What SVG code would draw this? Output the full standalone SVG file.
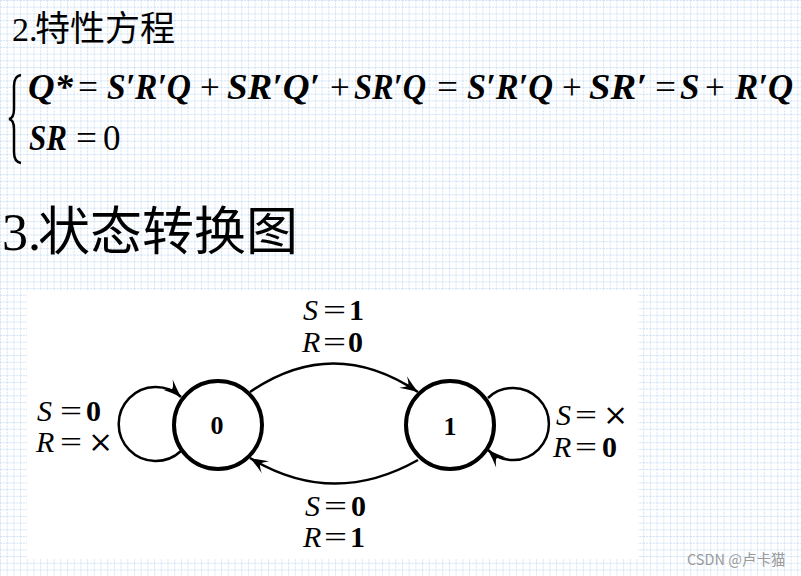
<svg xmlns="http://www.w3.org/2000/svg" width="801" height="576" viewBox="0 0 801 576">
<defs>
<pattern id="grid" width="6.7" height="6.7" patternUnits="userSpaceOnUse">
<path d="M0 0.5 H6.7 M0.5 0 V6.7" stroke="#cfe2f6" stroke-width="1" stroke-dasharray="2 1" fill="none"/>
</pattern>
<marker id="arr" markerUnits="userSpaceOnUse" viewBox="-20 -10 24 20" markerWidth="24" markerHeight="20" refX="0" refY="0" orient="auto" overflow="visible">
<path d="M0,0 Q-9,-3 -18,-7 Q-12,-2 -12,0 Q-12,2 -18,7 Q-9,3 0,0 Z" fill="#000"/>
</marker>
<style>
.node { fill:#fff; stroke:#000; stroke-width:4 }
.edge { fill:none; stroke:#000; stroke-width:2.5; marker-end:url(#arr) }
.lbl { font-family:"Liberation Serif", serif; font-size:30px; fill:#000 }
.x { font-family:"DejaVu Serif", serif; font-size:30px; fill:#000 }
.nl { font-family:"Liberation Serif", serif; font-size:26px; font-weight:bold; fill:#000; text-anchor:middle }
.eq { font-family:"Liberation Serif", serif; font-size:35px; fill:#000 }
.bi { font-style:italic; font-weight:bold }
.it { font-style:italic }
.bd { font-weight:bold }
.h { font-family:"Liberation Serif", "Noto Sans CJK SC", serif; fill:#000 }
</style>
</defs>
<rect width="801" height="576" fill="#fff"/>
<rect width="801" height="576" fill="url(#grid)"/>
<rect x="27" y="290" width="611" height="268" fill="#fff"/>

<g id="title2">
<text class="h" x="12" y="41" font-size="34">2.</text>
<text class="h" x="35" y="41" font-size="35" font-family="Noto Sans CJK SC, sans-serif">特性方程</text>
</g>

<g id="equations">
<path d="M21,75 Q14,76 14,86 L14,109 Q14,118 9,119 Q14,120 14,129 L14,152 Q14,162 21,163" fill="none" stroke="#000" stroke-width="2.5"/>
<text class="eq bi" x="28" y="99" textLength="45" lengthAdjust="spacingAndGlyphs">Q*</text>
<text class="eq" x="78" y="99" textLength="20" lengthAdjust="spacingAndGlyphs">=</text>
<text class="eq bi" x="107" y="99" textLength="84" lengthAdjust="spacingAndGlyphs">S′R′Q</text>
<text class="eq" x="200" y="99">+</text>
<text class="eq bi" x="227" y="99" textLength="93" lengthAdjust="spacingAndGlyphs">SR′Q′</text>
<text class="eq" x="330" y="99">+</text>
<text class="eq bi" x="354" y="99" textLength="72" lengthAdjust="spacingAndGlyphs">SR′Q</text>
<text class="eq" x="437" y="99" textLength="21" lengthAdjust="spacingAndGlyphs">=</text>
<text class="eq bi" x="467" y="99" textLength="86" lengthAdjust="spacingAndGlyphs">S′R′Q</text>
<text class="eq" x="562" y="99">+</text>
<text class="eq bi" x="589" y="99" textLength="58" lengthAdjust="spacingAndGlyphs">SR′</text>
<text class="eq" x="655" y="99" textLength="21" lengthAdjust="spacingAndGlyphs">=</text>
<text class="eq bi" x="680" y="99">S</text>
<text class="eq" x="705" y="99">+</text>
<text class="eq bi" x="735" y="99" textLength="58" lengthAdjust="spacingAndGlyphs">R′Q</text>
<text class="eq bi" x="29" y="150" textLength="38" lengthAdjust="spacingAndGlyphs">SR</text>
<text class="eq" x="76" y="150" textLength="21" lengthAdjust="spacingAndGlyphs">=</text>
<text class="eq" x="103" y="150">0</text>
</g>

<g id="title3">
<text class="h" x="2" y="250" font-size="52">3.</text>
<text class="h" x="38" y="250" font-size="52" font-family="Noto Sans CJK SC, sans-serif">状态转换图</text>
</g>

<g id="connectors">
<path id="e01" class="edge" d="M250,392 Q333,335 418,392"/>
<path id="e10" class="edge" d="M418,460 Q333,508 250,458"/>
<path id="e00" class="edge" d="M181,451 A37,37 0 1 1 181,397"/>
<path id="e11" class="edge" d="M488,398 A36,36 0 1 1 488,450"/>
</g>

<g id="node-0">
<circle class="node" cx="218" cy="425" r="44"/>
<text class="nl" x="217" y="434">0</text>
</g>
<g id="node-1">
<circle class="node" cx="450" cy="425" r="44"/>
<text class="nl" x="450" y="435">1</text>
</g>

<g id="edge-labels">
<text class="lbl it" x="303" y="320">S</text>
<text class="lbl" x="323" y="320" textLength="23" lengthAdjust="spacingAndGlyphs">=</text>
<text class="lbl bd" x="349" y="320">1</text>
<text class="lbl it" x="302" y="352">R</text>
<text class="lbl" x="323" y="352" textLength="23" lengthAdjust="spacingAndGlyphs">=</text>
<text class="lbl bd" x="348" y="352">0</text>

<text class="lbl it" x="37" y="421">S</text>
<text class="lbl" x="60" y="421" textLength="22" lengthAdjust="spacingAndGlyphs">=</text>
<text class="lbl bd" x="86" y="421">0</text>
<text class="lbl it" x="36" y="452">R</text>
<text class="lbl" x="60" y="452" textLength="22" lengthAdjust="spacingAndGlyphs">=</text>
<text class="x" x="88" y="452">×</text>

<text class="lbl it" x="556" y="425">S</text>
<text class="lbl" x="575" y="425" textLength="22" lengthAdjust="spacingAndGlyphs">=</text>
<text class="x" x="603" y="425">×</text>
<text class="lbl it" x="553" y="457">R</text>
<text class="lbl" x="575" y="457" textLength="22" lengthAdjust="spacingAndGlyphs">=</text>
<text class="lbl bd" x="602" y="457">0</text>

<text class="lbl it" x="305" y="516">S</text>
<text class="lbl" x="324" y="516" textLength="23" lengthAdjust="spacingAndGlyphs">=</text>
<text class="lbl bd" x="351" y="516">0</text>
<text class="lbl it" x="303" y="547">R</text>
<text class="lbl" x="324" y="547" textLength="23" lengthAdjust="spacingAndGlyphs">=</text>
<text class="lbl bd" x="350" y="547">1</text>
</g>

<text x="687" y="565" font-family="'Noto Sans CJK SC', sans-serif" font-size="14.5" fill="#9a9a9a">CSDN @卢卡猫</text>
</svg>
